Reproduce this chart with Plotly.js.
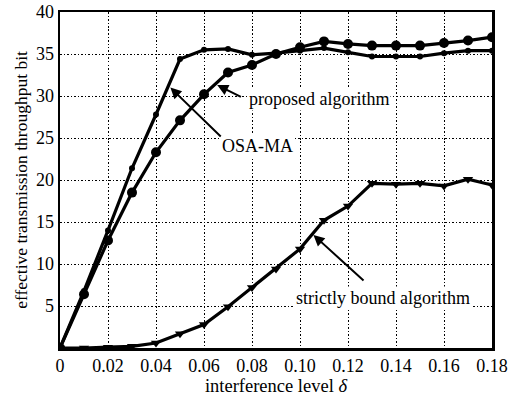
<!DOCTYPE html>
<html>
<head>
<meta charset="utf-8">
<script src="https://cdn.plot.ly/plotly-3.0.1.min.js"></script>
<style>html,body{margin:0;padding:0;background:#fff;}#chart{width:520px;height:396px;}</style>
</head>
<body>
<div id="chart"></div>
<script>
const xVals = [0, 0.01, 0.02, 0.03, 0.04, 0.05, 0.06, 0.07, 0.08, 0.09, 0.10, 0.11, 0.12, 0.13, 0.14, 0.15, 0.16, 0.17, 0.18];
const osaMA = [0, 6.8, 14.0, 21.4, 27.8, 34.4, 35.5, 35.6, 34.9, 35.1, 35.4, 35.7, 35.2, 34.7, 34.7, 34.7, 35.1, 35.4, 35.4];
const proposed = [0, 6.4, 12.8, 18.5, 23.3, 27.1, 30.2, 32.8, 33.7, 35.0, 35.8, 36.5, 36.2, 36.0, 36.0, 36.0, 36.3, 36.6, 37.0];
const strictly = [0, 0.0, 0.1, 0.2, 0.6, 1.7, 2.8, 4.9, 7.2, 9.4, 11.8, 15.2, 16.9, 19.6, 19.5, 19.6, 19.3, 20.1, 19.4];
const xTickVals = [0, 0.02, 0.04, 0.06, 0.08, 0.10, 0.12, 0.14, 0.16, 0.18];
const xTickText = ['0', '0.02', '0.04', '0.06', '0.08', '0.10', '0.12', '0.14', '0.16', '0.18'];
const yTickVals = [5, 10, 15, 20, 25, 30, 35, 40];
const labels = ['proposed algorithm', 'OSA-MA', 'strictly bound algorithm'];

const FAM = 'Liberation Serif';
function f(size) { return {family: FAM, size: size, color: '#000'}; }
const line = {color: '#000', width: 3.2};

const traces = [
  {x: xVals, y: osaMA, mode: 'lines+markers', line: line, marker: {symbol: 'circle', size: 6, color: '#000'}, name: labels[1]},
  {x: xVals, y: proposed, mode: 'lines+markers', line: line, marker: {symbol: 'circle', size: 10, color: '#000'}, name: labels[0]},
  {x: xVals, y: strictly, mode: 'lines+markers', line: line, marker: {symbol: 'triangle-down', size: 9, color: '#000'}, name: labels[2]}
];

function arrow(tx, ty, hx, hy) {
  return {x: hx, y: hy, ax: tx, ay: ty, xref: 'x', yref: 'y', axref: 'x', ayref: 'y',
    text: '', showarrow: true, arrowhead: 2, arrowsize: 1.1, arrowwidth: 2, arrowcolor: '#000', standoff: 0, startstandoff: 0};
}
function label(t, x, y, xanchor) {
  return {x: x, y: y, xref: 'x', yref: 'y', text: t, showarrow: false, xanchor: xanchor, yanchor: 'middle',
    bgcolor: '#fff', borderpad: 1, font: f(18)};
}

const layout = {
  width: 520, height: 396,
  margin: {l: 60, r: 28, t: 12, b: 48},
  paper_bgcolor: '#fff', plot_bgcolor: '#fff',
  showlegend: false,
  font: f(18),
  xaxis: {
    range: [0, 0.18], tickvals: xTickVals, ticktext: xTickText,
    showgrid: true, gridcolor: '#000', gridwidth: 1, griddash: '1.5px,2px',
    showline: true, mirror: true, linecolor: '#000', linewidth: 2.5,
    ticks: '', zeroline: false, tickfont: f(18),
    title: {text: 'interference level <i>δ</i>', font: f(18.5), standoff: 1}
  },
  yaxis: {
    range: [0, 40], tickvals: yTickVals,
    showgrid: true, gridcolor: '#000', gridwidth: 1, griddash: '1.5px,2px',
    showline: true, mirror: true, linecolor: '#000', linewidth: 2.5,
    ticks: '', zeroline: false, tickfont: f(18),
    title: {text: 'effective transmission throughput bit', font: f(17.5), standoff: 4}
  },
  annotations: [
    label(labels[0], 0.078, 29.6, 'left'),
    label(labels[1], 0.0665, 24.0, 'left'),
    label(labels[2], 0.1346, 6.0, 'center'),
    arrow(0.0760, 29.8, 0.0655, 31.3),
    arrow(0.0676, 25.0, 0.0460, 31.0),
    arrow(0.1271, 7.87, 0.1056, 13.46)
  ]
};

Plotly.newPlot('chart', traces, layout, {displayModeBar: false, staticPlot: true});
</script>
</body>
</html>
